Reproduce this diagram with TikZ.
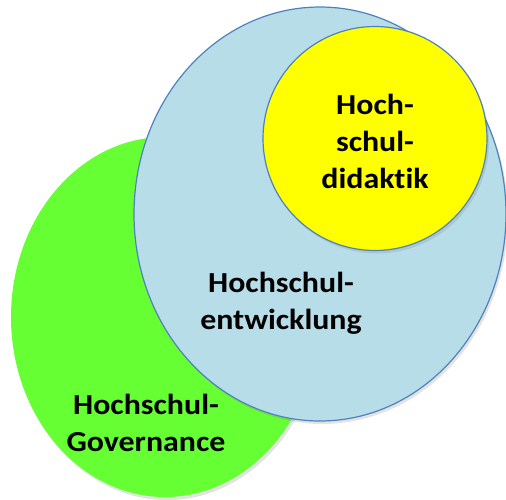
\documentclass[tikz,border=0pt]{standalone}
\usepackage{fontspec}
\setmainfont{Carlito}[Ligatures={NoCommon}]
\usetikzlibrary{shadows}
\definecolor{govgreen}{HTML}{66FF33}
\definecolor{entblue}{HTML}{B7DDE8}
\definecolor{didyellow}{HTML}{FFFF00}
\definecolor{rimblue}{HTML}{4F81BD}
\tikzset{
	blob/.style={drop shadow={opacity=0.22, shadow xshift=2pt, shadow yshift=-3pt}},
	label/.style={align=center, xscale=1.1, transform shape, font=\fontsize{29}{37}\selectfont\bfseries}
}
\begin{document}
\begin{tikzpicture}[x=1pt, y=-1pt]
		\useasboundingbox (0, 0) rectangle (506, 499);
		\fill [blob, color=govgreen]
		(165, 317) ellipse [x radius=154, y radius=180];
		\filldraw [blob, line width=1.2pt, color=rimblue, fill=entblue]
		(320, 214) ellipse [x radius=186, y radius=207];
		\filldraw [blob, line width=1.2pt, color=rimblue, fill=didyellow]
		(375, 138.5) circle [radius=112];
		\node [label] (didaktik) at (375, 141) {Hoch-\\schul-\\didaktik};
		\node [label] (entwicklung) at (281, 303) {Hochschul-\\entwicklung};
		\node [label] (governance) at (146, 423) {Hochschul-\\Governance};
	\end{tikzpicture}
\end{document}
